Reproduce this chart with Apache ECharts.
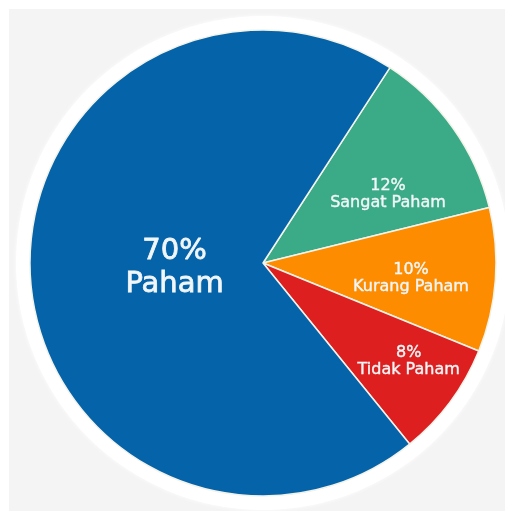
<!DOCTYPE html>
<html>
<head>
<meta charset="utf-8">
<script src="https://cdn.jsdelivr.net/npm/echarts@6/dist/echarts.min.js"></script>
<style>html,body{margin:0;padding:0;background:#fff}#c{width:506px;height:511px}</style>
</head>
<body>
<div id="c"></div>
<script>
const categories = ['Sangat Paham', 'Kurang Paham', 'Tidak Paham', 'Paham'];
const values = [12, 10, 8, 70];
const colors = ['#3baa87', '#fd8c00', '#de1f20', '#0563a9'];
const labelShift = [[27.6, 0.7], [28.8, 6.1], [49.8, 27.2], [30.9, -1.5]];

const chart = echarts.init(document.getElementById('c'), null, {renderer: 'canvas'});
chart.setOption({
  backgroundColor: '#ffffff',
  animation: false,
  graphic: [
    {type: 'rect', shape: {x: 9, y: 9, width: 496, height: 502}, style: {fill: '#f4f4f4'}, z: 0},
    {type: 'circle', shape: {cx: 263, cy: 263, r: 247}, style: {fill: '#ffffff', shadowBlur: 4, shadowColor: 'rgba(255,255,255,0.9)'}, z: 0}
  ],
  series: [{
    type: 'pie',
    center: [263, 263],
    radius: [0, 233],
    startAngle: 57,
    clockwise: true,
    z: 5,
    itemStyle: {borderColor: '#f3f3ea', borderWidth: 1.5},
    label: {
      show: true,
      position: 'inside',
      color: '#f1f6f8',
      fontFamily: 'DejaVu Sans',
      fontSize: 16,
      lineHeight: 17,
      textBorderColor: '#f1f6f8',
      textBorderWidth: 0.4,
      formatter: p => p.value + '%\n' + p.name
    },
    labelLine: {show: false},
    labelLayout: p => ({dx: labelShift[p.dataIndex][0], dy: labelShift[p.dataIndex][1]}),
    data: categories.map((c, i) => ({
      name: c,
      value: values[i],
      itemStyle: {color: colors[i]},
      label: i === 3 ? {fontSize: 29, lineHeight: 33, textBorderWidth: 0.8} : {}
    }))
  }]
});
</script>
</body>
</html>
